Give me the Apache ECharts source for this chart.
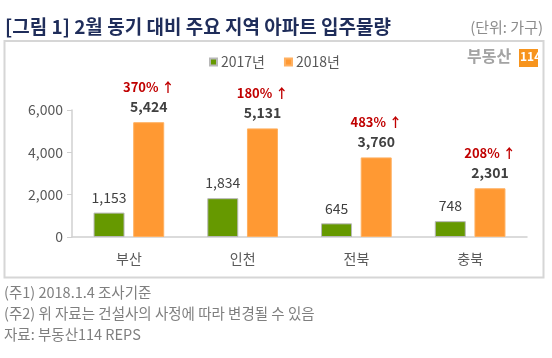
<!DOCTYPE html>
<html><head><meta charset="utf-8">
<script src="https://cdn.jsdelivr.net/npm/echarts@6/dist/echarts.min.js"></script>
<style>html,body{margin:0;padding:0;background:#fff}#c{width:552px;height:358px}</style>
</head><body><div id="c"></div>
<script>
const categories = ['부산', '인천', '전북', '충북'];
const values2017 = [1153, 1834, 645, 748];
const values2018 = [5424, 5131, 3760, 2301];
const growth = ['370%', '180%', '483%', '208%'];
const yTicks = [0, 2000, 4000, 6000];
const seriesNames = ['2017년', '2018년'];
const titleText = '[그림 1] 2월 동기 대비 주요 지역 아파트 입주물량';
const unitText = '(단위: 가구)';
const notes = ['(주1) 2018.1.4 조사기준', '(주2) 위 자료는 건설사의 사정에 따라 변경될 수 있음', '자료: 부동산114 REPS'];

const F = '"Noto Sans CJK KR", "Noto Sans", sans-serif';
const chart = echarts.init(document.getElementById('c'));
const fmt = v => v.toLocaleString('en-US');
chart.setOption({
  animation: false,
  textStyle: { fontFamily: F },
  grid: { left: 72, right: 25, top: 110, bottom: 121 },
  legend: {
    data: seriesNames, left: 204, top: 50, itemWidth: 7, itemHeight: 7, itemGap: 19,
    icon: 'rect', textStyle: { fontFamily: F, fontSize: 14, color: '#595959', padding: [0, 0, 0, -1] }
  },
  xAxis: {
    type: 'category', data: categories,
    axisLine: { lineStyle: { color: '#d0d0d0', width: 1.5 } },
    axisTick: { show: false },
    axisLabel: { color: '#595959', fontSize: 14, margin: 15, fontFamily: F }
  },
  yAxis: {
    type: 'value', min: yTicks[0], max: yTicks[yTicks.length - 1], interval: 2000,
    splitLine: { show: false },
    axisLine: { show: true, lineStyle: { color: '#d0d0d0', width: 1.5 } },
    axisTick: { show: true, length: 5, lineStyle: { color: '#d0d0d0' } },
    axisLabel: { color: '#595959', fontSize: 14, margin: 9, formatter: v => fmt(v), fontFamily: F }
  },
  series: [
    {
      name: seriesNames[0], type: 'bar', data: values2017, barWidth: 31, barGap: '28%',
      itemStyle: { color: '#669900', borderColor: '#b8b8b8', borderWidth: 1 },
      label: { show: true, position: 'top', distance: 8, color: '#404040', fontSize: 14, fontFamily: F,
        formatter: p => fmt(p.value) }
    },
    {
      name: seriesNames[1], type: 'bar', data: values2018, barWidth: 31,
      itemStyle: { color: '#ff9933', borderColor: '#ffb060', borderWidth: 1 },
      label: { show: true, position: 'top', distance: 7, fontFamily: F,
        formatter: p => '{p|' + growth[p.dataIndex] + ' ↑}\n{v|' + fmt(p.value) + '}',
        rich: {
          p: { color: '#c00000', fontSize: 13, fontWeight: 'bold', fontFamily: F, lineHeight: 20 },
          v: { color: '#404040', fontSize: 14, fontWeight: 'bold', fontFamily: F, lineHeight: 18 }
        }
      }
    }
  ],
  graphic: [
    { type: 'rect', shape: { x: 4.5, y: 41, width: 539, height: 236.5 }, style: { fill: 'none', stroke: '#d6d6d6', lineWidth: 2 }, z: -1 },
    { type: 'text', left: 5, top: 17, style: { text: titleText, font: 'bold 19px ' + F, fill: '#1f2d5a' } },
    { type: 'text', right: 9, top: 20, style: { text: unitText, font: '15px ' + F, fill: '#8c8c8c' } },
    { type: 'text', left: 467, top: 48, style: { text: '부동산', font: 'bold 16px ' + F, fill: '#a3a3a3' } },
    { type: 'rect', shape: { x: 519, y: 49, width: 19, height: 18 }, style: { fill: '#f7941d' } },
    { type: 'text', left: 520, top: 50, style: { text: '114', font: 'bold 12px ' + F, fill: '#fff' } },
    { type: 'text', left: 4, top: 285, style: { text: notes[0], font: '14.5px ' + F, fill: '#7f7f7f' } },
    { type: 'text', left: 4, top: 306, style: { text: notes[1], font: '14.5px ' + F, fill: '#7f7f7f' } },
    { type: 'text', left: 4, top: 327, style: { text: notes[2], font: '14.5px ' + F, fill: '#7f7f7f' } }
  ]
});
</script></body></html>
